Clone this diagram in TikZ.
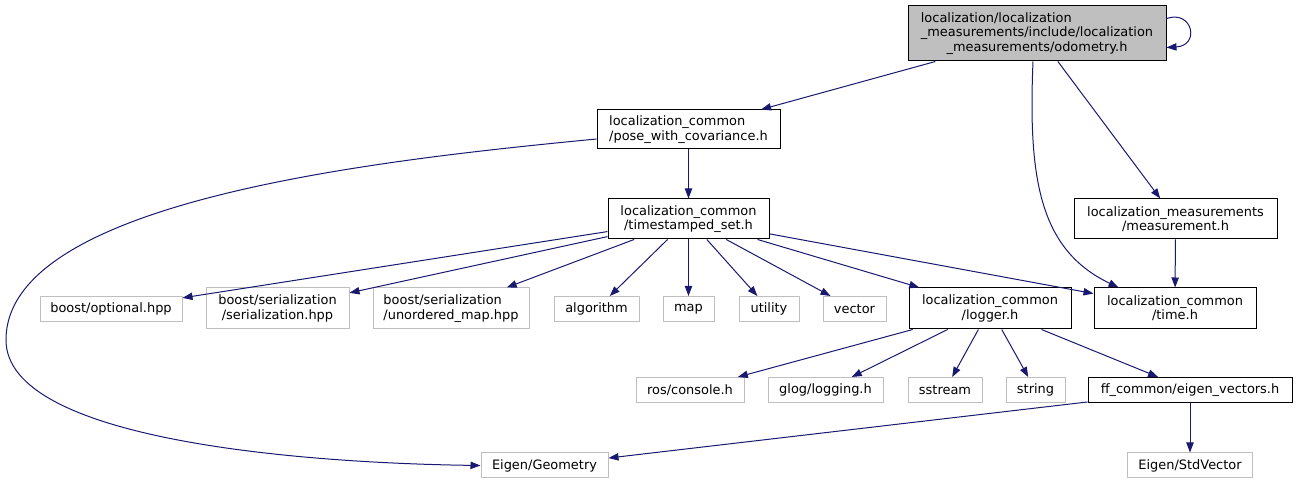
\documentclass[tikz,border=0pt]{standalone}
\usepackage{fontspec}
\setmainfont{DejaVu Sans}
\usetikzlibrary{arrows.meta,calc}
\definecolor{edgeblue}{RGB}{25,25,112}
\definecolor{extgray}{RGB}{191,191,191}
\begin{document}
\begin{tikzpicture}[x=0.75pt,y=-0.75pt,
  base/.style={rectangle, inner sep=0pt, align=center, font=\fontsize{9.7}{10.7}\selectfont, line width=0.75pt},
  doc/.style={base, draw=black},
  ext/.style={base, draw=extgray},
  cur/.style={base, draw=black, fill=extgray},
  sz/.style 2 args={minimum width=#1*0.75pt, minimum height=#2*0.75pt},
  dep/.style={draw=edgeblue, line width=0.75pt, -{Triangle[length=7.5pt,width=5.5pt]}}
]
\useasboundingbox (0,0) rectangle (1297,484);

% nodes
\node[cur, sz={258}{55}] (odom) at (1037,33.5) {\rlap{localization/localization}\phantom{\_measurements/include/localization}\\\_measurements/include/localization\\\_measurements/odometry.h};
\node[doc, sz={183}{39}] (pose) at (688.5,129.5) {\rlap{localization\_common}\phantom{/pose\_with\_covariance.h}\\/pose\_with\_covariance.h};
\node[doc, sz={161}{40}] (ts) at (688.5,219) {localization\_common\\/timestamped\_set.h};
\node[doc, sz={203}{40}] (meas) at (1175.5,219) {localization\_measurements\\/measurement.h};

\node[ext, sz={142}{25}] (opt) at (111,309) {boost/optional.hpp};
\node[ext, sz={143}{41}] (ser) at (277.5,308.5) {boost/serialization\\/serialization.hpp};
\node[ext, sz={156}{41}] (umap) at (451,308.5) {\rlap{boost/serialization}\phantom{/unordered\_map.hpp}\\/unordered\_map.hpp};
\node[ext, sz={85}{25}] (alg) at (596.5,309) {algorithm};
\node[ext, sz={51}{25}] (map) at (688.5,309) {map};
\node[ext, sz={60}{25}] (util) at (769,309) {utility};
\node[ext, sz={63}{25}] (vec) at (854.5,309) {vector};
\node[doc, sz={162}{41}] (log) at (990,308.5) {localization\_common\\/logger.h};
\node[doc, sz={162}{41}] (time) at (1175,308.5) {localization\_common\\/time.h};

\node[ext, sz={108}{25}] (ros) at (690,390) {ros/console.h};
\node[ext, sz={115}{25}] (glog) at (825.5,390) {glog/logging.h};
\node[ext, sz={74}{25}] (sst) at (945,390) {sstream};
\node[ext, sz={59}{25}] (str) at (1035.5,390) {string};
\node[doc, sz={204}{25}] (ev) at (1190,390) {ff\_common/eigen\_vectors.h};

\node[ext, sz={127}{25}] (geo) at (544.5,465.5) {Eigen/Geometry};
\node[ext, sz={125}{25}] (stdv) at (1190,465.5) {Eigen/StdVector};

% edges
\draw[dep] ($(odom.north east)+(0,13)$) .. controls ($(odom.north east)+(26,4)$) and ($(odom.north east)+(34,40)$) .. ($(odom.north east)+(0,42)$);
\draw[dep] (odom) -- (pose);
\draw[dep] ($(odom.south)+(-4,0)$) .. controls (1028,180) and (1040,250) .. ($(time.north west)+(25,0)$);
\draw[dep] (odom) -- (meas);

\draw[dep] ($(pose.west)+(0,9.5)$) .. controls (380,160) and (6,200) .. (6,340) .. controls (6,440) and (300,463) .. (geo.west);
\draw[dep] (pose) -- (ts);

\draw[dep] (ts) -- (opt);
\draw[dep] (ts) -- (ser);
\draw[dep] (ts) -- (umap);
\draw[dep] (ts) -- (alg);
\draw[dep] (ts) -- (map);
\draw[dep] (ts) -- (util);
\draw[dep] (ts) -- (vec);
\draw[dep] (ts) -- (log);
\draw[dep] (ts) -- (time);

\draw[dep] (meas) -- (time);

\draw[dep] (log) -- (ros);
\draw[dep] (log) -- (glog);
\draw[dep] (log) -- (sst);
\draw[dep] (log) -- (str);
\draw[dep] (log) -- (ev);

\draw[dep] (ev) -- (geo);
\draw[dep] (ev) -- (stdv);
\end{tikzpicture}
\end{document}
